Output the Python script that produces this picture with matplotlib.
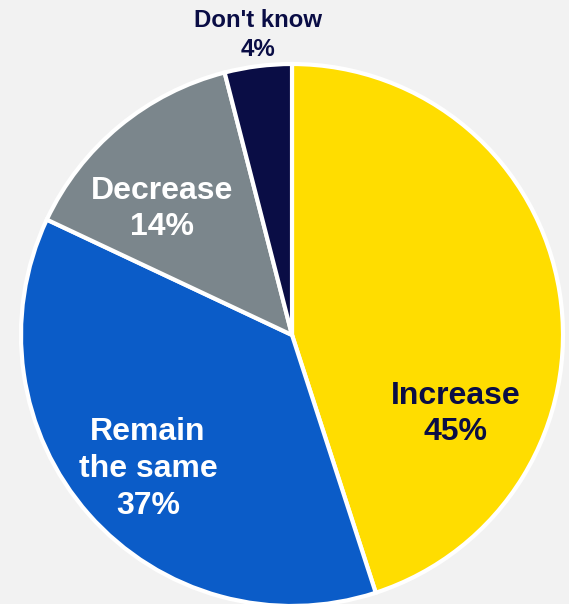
import matplotlib.pyplot as plt

# Expectation for the coming period, share of respondents
categories = ["Increase", "Remain\nthe same", "Decrease", "Don't know"]
shares = [45, 37, 14, 4]
colors = ["#FFDD00", "#0B5CC8", "#7B868C", "#0A0D45"]
text_colors = ["#0A0D45", "white", "white", "#0A0D45"]

plt.rcParams["font.family"] = ["Liberation Sans", "DejaVu Sans"]

W, H = 569, 604
fig = plt.figure(figsize=(W / 100, H / 100), dpi=100, facecolor="#F2F2F2")
ax = fig.add_axes([0, 0, 1, 1])
ax.set_facecolor("#F2F2F2")

cx, cy, r = 292, H - 335, 271
ax.pie(shares, colors=colors, startangle=90, counterclock=False,
       center=(cx, cy), radius=r, frame=True,
       wedgeprops=dict(edgecolor="white", linewidth=3))

# label positions in pixel space (y measured from top)
label_pos = [(456, 414, 23), (148, 469, 23), (162, 209, 23), (258, 35, 17.3)]
for name, val, tc, (x, y, fs) in zip(categories, shares, text_colors, label_pos):
    ax.text(x, H - y, f"{name}\n{val}%", ha="center", va="center",
            multialignment="center", color=tc, fontsize=fs,
            fontweight="bold", linespacing=1.29)

ax.set_xlim(0, W)
ax.set_ylim(0, H)
ax.set_aspect("equal")
ax.axis("off")

fig.savefig("out.png", dpi=100, facecolor=fig.get_facecolor())
